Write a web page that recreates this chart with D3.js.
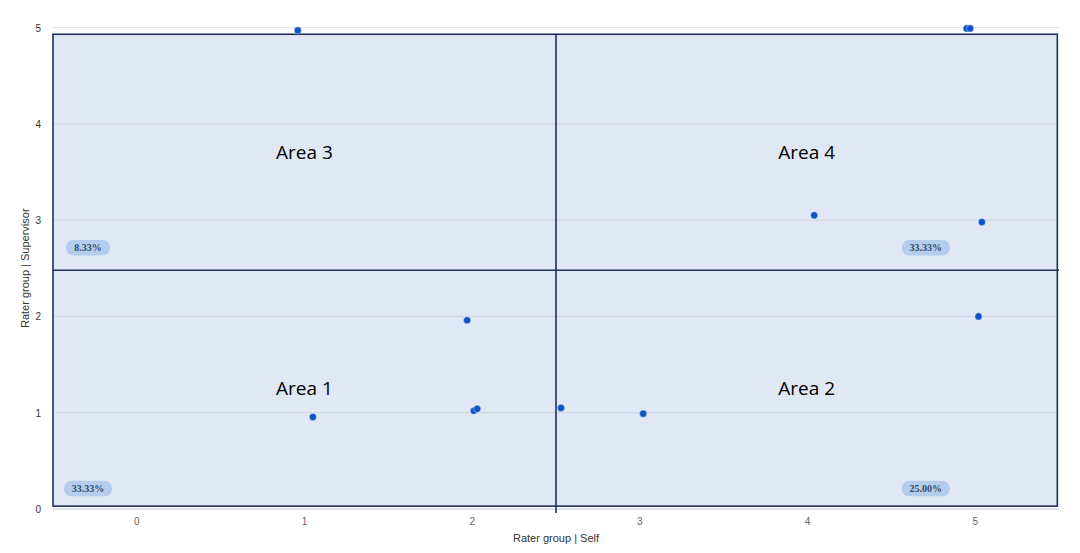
<!DOCTYPE html>
<html><head><meta charset="utf-8">
<script src="https://cdn.jsdelivr.net/npm/d3@7"></script>
<style>body{margin:0;background:#fff;}svg{display:block;}</style>
</head><body>
<svg id="c" width="1080" height="553"></svg>
<script>
const selfScores = [0.96, 4.95, 4.97, 4.04, 5.04, 1.97, 5.02, 1.05, 2.01, 2.03, 2.53, 3.02];
const supervisorScores = [4.97, 4.99, 4.99, 3.05, 2.98, 1.96, 2.00, 0.955, 1.02, 1.04, 1.05, 0.99];
const xTicks = [0, 1, 2, 3, 4, 5];
const yTicks = [0, 1, 2, 3, 4, 5];
const areaNames = ["Area 1", "Area 2", "Area 3", "Area 4"];
const areaPercents = ["33.33%", "25.00%", "8.33%", "33.33%"];
const xSplit = 2.5, ySplit = 2.48;
const boxBottom = 0.03, boxTop = 4.93;

const svg = d3.select("#c");
const x = d3.scaleLinear().domain([-0.5, 5.5]).range([53, 1059]);
const y = d3.scaleLinear().domain([0, 5]).range([509, 27.5]);

// gridlines
svg.append("g").selectAll("line").data(yTicks).join("line")
  .attr("x1", x(-0.5)).attr("x2", x(5.5))
  .attr("y1", d => y(d)).attr("y2", d => y(d))
  .attr("stroke", d => d === 0 ? "#dde4ee" : "#e3e3e3").attr("stroke-width", d => d === 0 ? 2 : 1);

// background box
svg.append("rect")
  .attr("x", x(-0.5)).attr("y", y(boxTop))
  .attr("width", x(5.49) - x(-0.5)).attr("height", y(boxBottom) - y(boxTop))
  .attr("fill", "#e0e8f5").attr("stroke", "#1c2f5e").attr("stroke-width", 1.6);

// gridlines inside box
svg.append("g").selectAll("line").data(yTicks.filter(d => d > 0 && d < 5)).join("line")
  .attr("x1", x(-0.5) + 1).attr("x2", x(5.49) - 1)
  .attr("y1", d => y(d)).attr("y2", d => y(d))
  .attr("stroke", "#cdd4e0").attr("stroke-width", 1);

// split lines
svg.append("line").attr("x1", x(xSplit)).attr("x2", x(xSplit))
  .attr("y1", y(boxTop)).attr("y2", y(0) + 4).attr("stroke", "#1c2f5e").attr("stroke-width", 1.6);
svg.append("line").attr("x1", x(-0.5)).attr("x2", x(5.5))
  .attr("y1", y(ySplit)).attr("y2", y(ySplit)).attr("stroke", "#1c2f5e").attr("stroke-width", 1.6);

// axes labels
svg.append("g").selectAll("text").data(xTicks).join("text")
  .attr("x", d => x(d)).attr("y", 525).attr("text-anchor", "middle")
  .attr("font-family", "Arial, Liberation Sans, sans-serif").attr("font-size", 10).attr("fill", "#666")
  .text(d => d);
svg.append("g").selectAll("text").data(yTicks).join("text")
  .attr("x", 41).attr("y", d => y(d) + 4).attr("text-anchor", "end")
  .attr("font-family", "Arial, Liberation Sans, sans-serif").attr("font-size", 10).attr("fill", "#333")
  .text(d => d);
svg.append("text").attr("x", x(xSplit)).attr("y", 542).attr("text-anchor", "middle")
  .attr("font-family", "Arial, Liberation Sans, sans-serif").attr("font-size", 11).attr("fill", "#333")
  .text("Rater group | Self");
svg.append("text").attr("transform", `translate(29,${y(2.5)}) rotate(-90)`).attr("text-anchor", "middle")
  .attr("font-family", "Arial, Liberation Sans, sans-serif").attr("font-size", 11).attr("fill", "#333")
  .text("Rater group | Supervisor");

// quadrant labels
const quads = [
  {x0: -0.5, x1: xSplit, y0: boxBottom, y1: ySplit, left: true, top: false},
  {x0: xSplit, x1: 5.49, y0: boxBottom, y1: ySplit, left: false, top: false},
  {x0: -0.5, x1: xSplit, y0: ySplit, y1: boxTop, left: true, top: true},
  {x0: xSplit, x1: 5.49, y0: ySplit, y1: boxTop, left: false, top: true}
];
quads.forEach((q, i) => {
  svg.append("text")
    .attr("x", (x(q.x0) + x(q.x1)) / 2).attr("y", (y(q.y0) + y(q.y1)) / 2 + 7)
    .attr("text-anchor", "middle").attr("font-family", "Open Sans, sans-serif")
    .attr("font-size", 19).attr("fill", "#000").text(areaNames[i]);
  const w = areaPercents[i].length > 5 ? 48 : 44;
  const cx = q.left ? x(q.x0) + 35 : x(q.x1) - 131.5;
  const cy = y(q.y0) - (q.top ? 22.5 : 17.5);
  svg.append("rect").attr("x", cx - w / 2).attr("y", cy - 7.75).attr("width", w).attr("height", 15.5)
    .attr("rx", 7.5).attr("fill", "#b5cdec");
  svg.append("text").attr("x", cx).attr("y", cy + 3.5).attr("text-anchor", "middle")
    .attr("font-family", "Liberation Serif, Times New Roman, serif").attr("font-weight", "bold")
    .attr("font-size", 10).attr("fill", "#34496b").text(areaPercents[i]);
});

// points
svg.append("g").selectAll("circle").data(selfScores).join("circle")
  .attr("cx", d => x(d)).attr("cy", (d, i) => y(supervisorScores[i]))
  .attr("r", 3.6).attr("fill", "#0b53c6").attr("stroke", "#fff").attr("stroke-width", 0.4);
</script>
</body></html>
